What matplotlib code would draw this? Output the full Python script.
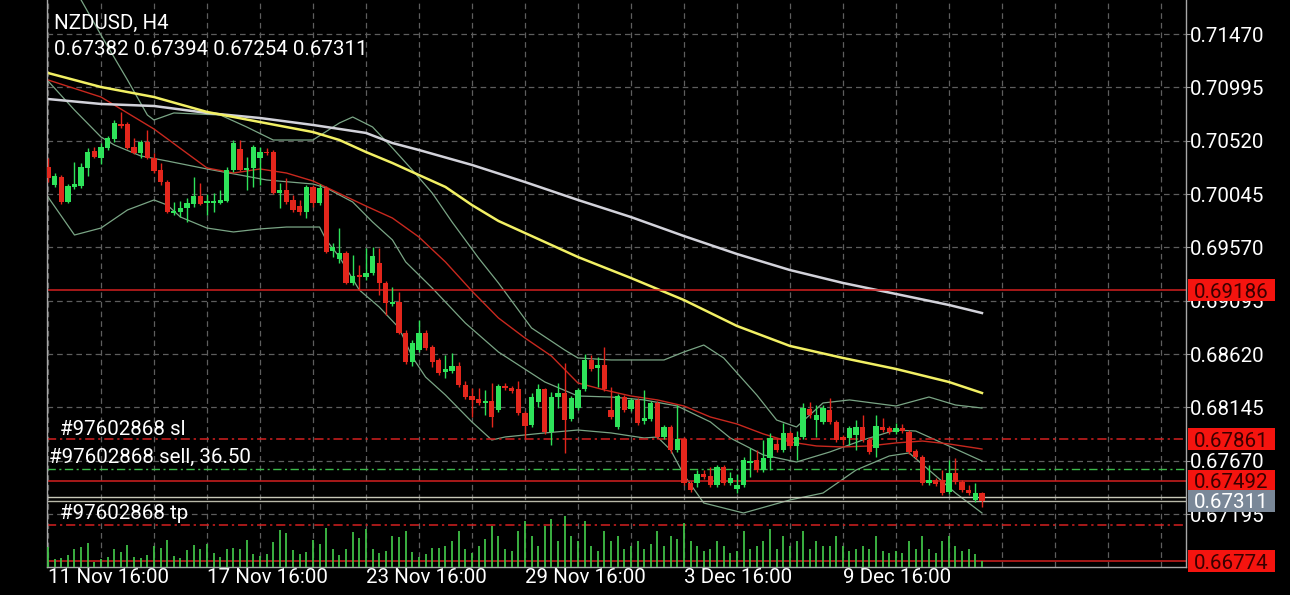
import numpy as np
import matplotlib
matplotlib.use('Agg')
import matplotlib.pyplot as plt
from matplotlib.transforms import blended_transform_factory
from matplotlib.patches import Rectangle

plt.rcParams['font.family'] = ['Roboto', 'DejaVu Sans']

# NZDUSD H4 candles, prices in points (1e-5)
opens = [70286, 70125, 70197, 69974, 70108, 70117, 70277, 70428, 70366, 70455,
         70535, 70668, 70668, 70464, 70410, 70508, 70366, 70259, 70152, 69876,
         69885, 69921, 69956, 70028, 69965, 69965, 69965, 69983, 70259, 70446,
         70259, 70277, 70366, 70419, 70419, 70054, 70081, 69992, 69939, 69885,
         70108, 69965, 70099, 69538, 69467, 69520, 69252, 69315, 69306, 69341,
         69430, 69252, 69065, 69083, 68807, 68549, 68656, 68807, 68683, 68567,
         68460, 68469, 68514, 68345, 68247, 68220, 68184, 68202, 68121, 68336,
         68318, 68309, 68094, 67988, 68193, 68309, 67925, 68238, 68273, 68041,
         68139, 68309, 68567, 68496, 68523, 68121, 67970, 68238, 68130, 68211,
         68023, 68041, 68184, 67881, 67970, 67765, 67863, 67471, 67471, 67551,
         67534, 67454, 67614, 67471, 67418, 67454, 67649, 67676, 67587, 67694,
         67818, 67765, 67916, 67801, 67881, 68130, 68032, 68014, 68121, 68014,
         67881, 67872, 67899, 67970, 67854, 67783, 67970, 67961, 67925, 67961,
         67925, 67756, 67703, 67471, 67498, 67498, 67391, 67560, 67480, 67409,
         67320, 67382]
highs = [70366, 70232, 70214, 70134, 70330, 70321, 70455, 70464, 70499, 70562,
         70704, 70775, 70686, 70544, 70526, 70615, 70410, 70321, 70170, 69974,
         69983, 70010, 70197, 70143, 70045, 70054, 70081, 70286, 70526, 70526,
         70375, 70482, 70464, 70455, 70437, 70143, 70188, 70036, 69992, 70125,
         70125, 70134, 70117, 69609, 69743, 69538, 69502, 69412, 69565, 69574,
         69565, 69270, 69217, 69172, 68834, 68745, 68923, 68834, 68701, 68585,
         68612, 68629, 68549, 68380, 68318, 68318, 68300, 68362, 68354, 68362,
         68336, 68380, 68112, 68273, 68354, 68318, 68282, 68362, 68540, 68247,
         68318, 68620, 68612, 68594, 68683, 68327, 68264, 68255, 68229, 68229,
         68300, 68202, 68202, 67988, 67988, 68166, 67881, 67489, 67587, 67587,
         67614, 67632, 67632, 67569, 67551, 67703, 67783, 67765, 67854, 67916,
         67872, 68005, 67934, 67934, 68184, 68193, 68166, 68166, 68229, 68032,
         67899, 67979, 68032, 68077, 67872, 68077, 68050, 67979, 68005, 67996,
         67943, 67774, 67720, 67632, 67516, 67587, 67676, 67694, 67498, 67454,
         67471, 67394]
lows = [70152, 70108, 69956, 69965, 70090, 70099, 70206, 70366, 70312, 70437,
        70508, 70633, 70446, 70401, 70366, 70357, 70232, 70125, 69876, 69858,
        69841, 69796, 69930, 69947, 69858, 69885, 69956, 69974, 70241, 70250,
        70081, 70108, 70125, 70392, 70045, 69921, 69956, 69885, 69858, 69832,
        69930, 69947, 69520, 69485, 69430, 69243, 69234, 69190, 69279, 69324,
        69145, 68967, 69048, 68798, 68531, 68514, 68638, 68656, 68505, 68434,
        68407, 68451, 68327, 68220, 68059, 68166, 68077, 67970, 68103, 68300,
        68273, 68077, 67872, 67970, 68148, 67908, 67810, 68139, 67738, 68023,
        68121, 68291, 68469, 68327, 68291, 68041, 67952, 68103, 68112, 67988,
        67996, 68023, 67863, 67863, 67738, 67747, 67454, 67391, 67436, 67507,
        67436, 67436, 67454, 67454, 67382, 67436, 67525, 67569, 67569, 67587,
        67747, 67747, 67783, 67676, 67863, 68050, 67881, 67996, 67996, 67836,
        67810, 67810, 67765, 67836, 67729, 67703, 67925, 67908, 67908, 67916,
        67729, 67685, 67454, 67454, 67445, 67365, 67374, 67462, 67391, 67365,
        67302, 67254]
closes = [70188, 70206, 69974, 70117, 70134, 70286, 70419, 70375, 70464, 70544,
          70677, 70651, 70455, 70410, 70508, 70366, 70250, 70152, 69885, 69894,
          69921, 69965, 70028, 69956, 69974, 69983, 69992, 70259, 70499, 70259,
          70277, 70464, 70419, 70410, 70054, 70081, 69974, 69903, 69885, 70108,
          69965, 70099, 69529, 69574, 69520, 69252, 69315, 69306, 69341, 69494,
          69252, 69074, 69083, 68807, 68549, 68718, 68807, 68674, 68549, 68451,
          68487, 68514, 68345, 68238, 68211, 68184, 68193, 68059, 68336, 68318,
          68291, 68094, 67979, 68238, 68309, 67925, 68238, 68273, 68032, 68229,
          68300, 68567, 68487, 68523, 68309, 68059, 68247, 68121, 68211, 68005,
          68050, 68184, 67881, 67970, 67765, 67863, 67471, 67409, 67551, 67525,
          67454, 67614, 67471, 67516, 67454, 67676, 67667, 67587, 67694, 67872,
          67765, 67916, 67801, 67881, 68139, 68077, 68077, 68139, 68014, 67854,
          67854, 67961, 67970, 67854, 67747, 67979, 67943, 67925, 67961, 67934,
          67747, 67703, 67471, 67498, 67462, 67382, 67560, 67480, 67409, 67382,
          67382, 67311]
volumes = [2000, 800, 900, 1200, 1800, 2000, 2400, 500, 800, 1000,
           1800, 1500, 2200, 1000, 900, 1200, 2100, 1900, 2700, 1100,
           900, 1700, 2200, 1800, 2300, 1400, 1000, 1800, 1900, 1800,
           2700, 1300, 1100, 1300, 2500, 3700, 3400, 1700, 1300, 1500,
           2700, 2300, 3900, 1800, 1200, 1800, 3500, 2900, 3800, 1800,
           1400, 1600, 3100, 3000, 3600, 1500, 1000, 1300, 1900, 1900,
           2100, 2600, 3600, 1800, 1400, 2100, 2800, 4100, 3100, 1800,
           1600, 3600, 4600, 3100, 2100, 4100, 4800, 2600, 5100, 3100,
           2600, 4600, 2100, 1600, 3600, 2600, 3100, 1800, 2100, 2600,
           1800, 2300, 3600, 2100, 3100, 2800, 4400, 2600, 2100, 1600,
           1800, 2600, 2100, 1400, 1600, 3600, 1800, 2100, 2600, 3800,
           1800, 3100, 2100, 2600, 3600, 1800, 2600, 2100, 2100, 3100,
           2100, 1600, 1800, 2100, 1800, 3100, 1600, 1400, 1600, 1400,
           2600, 1800, 3100, 1800, 1400, 2600, 3100, 2100, 1600, 1800,
           1300, 600]

# indicator lines read at sample bars
ma_yellow_bars = [0, 8, 16, 24, 32, 40, 44, 48, 52, 56, 60, 64, 68, 72, 76, 80, 88, 96, 104, 112, 120, 128, 136, 141]
ma_yellow_vals = [71123, 70998, 70909, 70776, 70686, 70597, 70526, 70419, 70321, 70214, 70108, 69947,
                  69805, 69698, 69591, 69484, 69297, 69101, 68870, 68692, 68585, 68487, 68371, 68273]
ma_white_bars = [0, 8, 16, 24, 32, 40, 48, 52, 56, 64, 72, 80, 88, 96, 104, 112, 120, 128, 136, 141]
ma_white_vals = [70891, 70847, 70829, 70767, 70722, 70660, 70589, 70499, 70437, 70304, 70152, 69992,
                 69840, 69671, 69511, 69368, 69253, 69155, 69057, 68985]
ma_red_bars = [0, 8, 16, 24, 28, 32, 36, 40, 48, 52, 56, 60, 64, 68, 72, 76, 80, 84, 88, 92, 96,
               100, 104, 108, 112, 116, 120, 124, 128, 132, 136, 141]
ma_red_vals = [71061, 70909, 70624, 70277, 70232, 70268, 70232, 70161, 69938, 69831, 69662, 69440,
               69181, 68941, 68763, 68602, 68362, 68300, 68246, 68211, 68157, 68059, 67997, 67908,
               67837, 67801, 67792, 67801, 67828, 67845, 67819, 67774]
bb_up_bars = [0, 5, 8, 12, 15, 16, 19, 26, 30, 34, 40, 44, 46, 49, 52, 55, 58, 61, 65, 68, 73, 78,
              80, 85, 93, 96, 99, 102, 107, 110, 113, 117, 121, 128, 133, 137, 141]
bb_up_vals = [72263, 71773, 71461, 71061, 70749, 70704, 70767, 70749, 70642, 70526, 70526, 70678,
              70731, 70642, 70455, 70259, 70054, 69796, 69475, 69253, 68852, 68656, 68585, 68567,
              68567, 68638, 68700, 68585, 68255, 68032, 67970, 68184, 68211, 68157, 68237, 68166, 68139]
bb_mid_bars = [0, 4, 8, 10, 14, 18, 24, 29, 33, 40, 42, 46, 49, 52, 54, 58, 63, 68, 75, 80, 85, 90,
               95, 100, 103, 108, 113, 118, 123, 128, 131, 136, 141]
bb_mid_vals = [71052, 70793, 70553, 70482, 70384, 70339, 70268, 70214, 70170, 70134, 70099, 69974,
               69796, 69636, 69440, 69208, 68896, 68638, 68371, 68246, 68237, 68211, 68157, 68015,
               67872, 67721, 67658, 67747, 67854, 67943, 67934, 67801, 67667]
bb_low_bars = [0, 4, 8, 12, 16, 18, 20, 24, 28, 32, 36, 41, 42, 44, 47, 50, 53, 55, 57, 60, 64, 67,
               69, 75, 80, 85, 90, 92, 94, 96, 99, 105, 112, 117, 122, 127, 130, 133, 137, 141]
bb_low_vals = [70019, 69680, 69742, 69903, 69992, 69947, 69840, 69742, 69707, 69734, 69751, 69751,
               69636, 69484, 69190, 69039, 68852, 68594, 68415, 68255, 68015, 67854, 67881, 67917,
               67943, 67917, 67872, 67881, 67765, 67543, 67293, 67204, 67320, 67382, 67587, 67712,
               67739, 67587, 67382, 67204]

# horizontal levels
level_lines = [0.69186, 0.67492, 0.66774]
sl_price = 0.67861
entry_price = 0.67600
tp_price = 0.67097
bid_price = 0.67311
ask_price = 0.67345
order_id = '#97602868'
lots = '36.50'

price_ticks = [0.71470, 0.70995, 0.70520, 0.70045, 0.69570, 0.69095, 0.68620, 0.68145, 0.67670, 0.67195]
time_labels = ['11 Nov 16:00', '17 Nov 16:00', '23 Nov 16:00', '29 Nov 16:00', '3 Dec 16:00', '9 Dec 16:00']

P = 1e-5
o = np.array(opens) * P
h = np.array(highs) * P
l = np.array(lows) * P
c = np.array(closes) * P
x = np.arange(len(o))

W, H = 1290, 595
fig = plt.figure(figsize=(W / 100, H / 100), dpi=100, facecolor='black')
ax = fig.add_axes([47 / W, 28 / H, 1139 / W, 567 / H], facecolor='black')
y0, y1 = 0.66723, 0.71773
ax.set_xlim(-0.15, 171.8)
ax.set_ylim(y0, y1)
px = (y1 - y0) / 567

# volumes on overlay axis (twinx first, it resets the y tick side)
axv = ax.twinx()
axv.set_ylim(0, 56700)
axv.vlines(x, 0, volumes, colors='#3fbf46', lw=1.3)
axv.axis('off')

FS = 14.8
grid_kw = dict(color='#5e5e5e', lw=0.9, linestyle=(0, (4.5, 3.2)))
xt = np.arange(0, 172, 8)
ax.set_xticks(xt)
ax.set_xticklabels([time_labels[i // 3] if i % 3 == 0 and i // 3 < len(time_labels) else ''
                    for i in range(len(xt))], ha='left')
ax.set_yticks(price_ticks)
ax.set_yticklabels(['%.5f' % v for v in price_ticks])
ax.grid(True, **grid_kw)
ax.set_axisbelow(True)
ax.tick_params(axis='x', length=0, pad=1, labelcolor='white', labelsize=FS)
ax.tick_params(axis='y', left=False, labelleft=False, right=True, labelright=True,
               length=3, width=0.8, color='#a0a0a0', pad=0, labelcolor='white', labelsize=FS)
ax.set_xlim(-0.15, 171.8)
axv.set_xlim(ax.get_xlim())
for s in ax.spines.values():
    s.set_color('#a8a8a8')
    s.set_linewidth(1)
ax.spines['top'].set_visible(False)

# indicators
ax.plot(bb_up_bars, np.array(bb_up_vals) * P, color='#7aa585', lw=0.9, zorder=2)
ax.plot(bb_mid_bars, np.array(bb_mid_vals) * P, color='#7aa585', lw=0.9, zorder=2)
ax.plot(bb_low_bars, np.array(bb_low_vals) * P, color='#7aa585', lw=0.9, zorder=2)
ax.plot(ma_red_bars, np.array(ma_red_vals) * P, color='#c8281e', lw=1.0, zorder=2)
ax.plot(ma_white_bars, np.array(ma_white_vals) * P, color='#d2d2da', lw=1.8, zorder=2)
ax.plot(ma_yellow_bars, np.array(ma_yellow_vals) * P, color='#f2f064', lw=1.8, zorder=2)

# levels
for lv in level_lines:
    ax.axhline(lv, color='#d42020', lw=1.1, zorder=2.5)
ax.axhline(sl_price, color='#d42020', lw=1.1, linestyle=(0, (6, 2.5, 1.5, 2.5)), zorder=2.5)
ax.axhline(tp_price, color='#d42020', lw=1.1, linestyle=(0, (6, 2.5, 1.5, 2.5)), zorder=2.5)
ax.axhline(entry_price, color='#3cb94a', lw=1.0, linestyle=(0, (6, 2.5, 1.5, 2.5)), zorder=2.5)
ax.axhline(ask_price, color='#c8c8b8', lw=1.0, zorder=2.5)
ax.axhline(bid_price, color='#b8b8a8', lw=1.0, zorder=2.5)

# candles
up = c >= o
cols = np.where(up, '#2ee35a', '#e3261c')
ax.vlines(x, l, h, colors=cols, lw=1.0, zorder=3)
ax.bar(x, np.maximum(np.abs(c - o), 1.5 * px), bottom=np.minimum(o, c), width=0.8,
       color=cols, zorder=4, linewidth=0)

# price tags on the right
tr = blended_transform_factory(ax.transAxes, ax.transData)
tags = [(lv, '#f5140f', '#3a0000') for lv in level_lines + [sl_price]] + [(bid_price, '#7a8898', 'white')]
for price, fc, tc in tags:
    ax.add_patch(Rectangle((1 + 2 / 1139, price - 11 * px), 87 / 1139, 22 * px, transform=tr,
                           facecolor=fc, edgecolor='none', clip_on=False, zorder=10))
    ax.text(1 + 45 / 1139, price, '%.5f' % price, transform=tr, ha='center', va='center_baseline',
            color=tc, fontsize=FS, zorder=11, clip_on=False)

# order labels
fig.text(60 / W, 1 - 435 / H, order_id + ' sl', color='white', fontsize=FS, va='baseline')
fig.text(49 / W, 1 - 463 / H, order_id + ' sell, ' + lots, color='white', fontsize=FS, va='baseline')
fig.text(60 / W, 1 - 519 / H, order_id + ' tp', color='white', fontsize=FS, va='baseline')

# header
fig.text(54 / W, 1 - 29 / H, 'NZDUSD, H4', color='white', fontsize=FS, va='baseline')
fig.text(54 / W, 1 - 55 / H, ' '.join('%.5f' % v for v in (o[-1], h[-1], l[-1], c[-1])),
         color='white', fontsize=FS, va='baseline')

fig.savefig('out.png', dpi=100, facecolor='black')
